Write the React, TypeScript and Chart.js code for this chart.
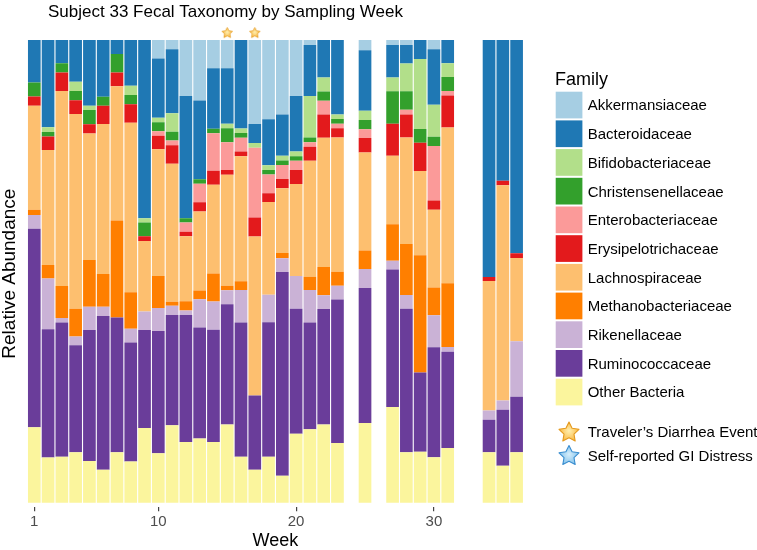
import React, { useEffect, useRef } from "react";
import { Chart, registerables } from "chart.js";

Chart.register(...registerables);

const FONT = "'Liberation Sans', Arial, Helvetica, sans-serif";

// Sampled weeks (x categories with data)
const sampleWeeks = [1, 2, 3, 4, 5, 6, 7, 8, 9, 10, 11, 12, 13, 14, 15, 16, 17, 18, 19, 20, 21, 22, 23, 25, 27, 28, 29, 30, 31, 34, 35, 36];
const lastWeek = 36;
const tickWeeks = [1, 10, 20, 30];

// Relative abundance (%) per family, aligned with sampleWeeks
const akkermansiaceae = [0, 0, 0, 0, 0, 0, 0, 0, 0, 4.0, 2.0, 12.1, 13.1, 6.1, 6.1, 0, 18.2, 17.1, 16.1, 12.1, 1.1, 0, 0, 2.2, 1.1, 1.1, 0, 2.0, 0, 0, 0, 0];
const bacteroidaceae = [9.2, 18.9, 5.0, 9.0, 14.2, 12.3, 3.0, 9.9, 38.5, 12.8, 13.8, 26.4, 17.0, 13.1, 12.0, 19.1, 4.1, 9.9, 8.9, 12.0, 11.0, 8.1, 16.1, 13.1, 7.0, 4.0, 4.1, 12.0, 5.0, 51.2, 30.4, 46.1];
const bifidobacteriaceae = [0, 1.0, 0, 2.0, 0.9, 0, 0, 2.0, 0.9, 1.0, 4.0, 0, 0, 0, 1.0, 1.0, 1.0, 1.0, 1.0, 1.0, 9.0, 3.0, 1.0, 2.0, 3.0, 6.0, 15.1, 6.9, 3.0, 0, 0, 0];
const christensenellaceae = [3.0, 1.0, 2.0, 2.0, 3.1, 1.9, 4.0, 2.0, 3.0, 1.9, 1.9, 0.9, 1.0, 1.0, 3.0, 1.0, 0, 1.0, 1.0, 1.0, 1.0, 2.0, 1.0, 2.0, 7.0, 4.0, 3.0, 2.0, 3.0, 0, 0, 0];
const enterobacteriaceae = [0, 0, 0, 0, 0, 0, 0, 0, 0, 1.0, 1.0, 2.0, 4.0, 8.1, 6.0, 3.0, 15.1, 4.0, 3.0, 2.0, 1.0, 3.0, 1.0, 1.9, 0, 1.0, 0, 11.8, 1.0, 0, 0, 0];
const erysipelotrichaceae = [2.0, 2.9, 4.0, 3.0, 2.0, 4.0, 3.0, 4.0, 1.0, 2.9, 4.0, 1.0, 2.0, 3.0, 1.0, 1.0, 4.1, 1.9, 2.0, 3.0, 3.0, 5.0, 2.0, 3.1, 6.9, 5.0, 6.1, 2.0, 6.9, 0.9, 1.0, 1.0];
const lachnospiraceae = [22.5, 24.9, 42.1, 42.1, 27.3, 32.4, 29.0, 36.6, 15.2, 27.4, 29.8, 14.0, 17.1, 19.2, 24.0, 27.0, 34.4, 20.0, 14.0, 19.9, 25.1, 27.9, 29.0, 21.2, 14.8, 23.0, 18.2, 16.8, 33.6, 28.0, 46.5, 18.0];
const methanobacteriaceae = [1.1, 2.9, 6.9, 6.0, 10.1, 7.1, 20.9, 7.9, 0, 6.9, 0.9, 2.0, 1.9, 6.1, 1.0, 1.9, 0, 0, 1.1, 0, 2.9, 6.1, 3.0, 4.0, 7.9, 11.0, 25.3, 6.0, 13.8, 0, 0, 0];
const rikenellaceae = [3.0, 11.0, 1.0, 1.9, 5.0, 2.0, 0, 3.0, 4.0, 5.0, 2.0, 1.0, 6.1, 6.1, 3.0, 7.0, 0, 5.9, 3.0, 7.1, 7.0, 3.0, 3.0, 4.1, 1.9, 3.0, 0, 6.9, 1.0, 2.0, 2.0, 12.0];
const ruminococcaceae = [42.9, 27.7, 29.0, 23.1, 28.3, 33.3, 29.1, 25.7, 21.2, 26.4, 23.8, 27.4, 24.0, 24.3, 26.0, 29.0, 16.1, 29.0, 44.0, 27.0, 23.1, 24.9, 31.0, 29.2, 29.7, 31.0, 17.1, 23.8, 20.8, 7.0, 12.1, 12.0];
const otherBacteria = [16.3, 9.8, 9.9, 10.9, 9.0, 7.1, 10.9, 8.9, 16.1, 10.7, 16.7, 13.1, 13.9, 13.1, 16.9, 9.9, 7.1, 9.9, 5.8, 14.9, 15.9, 16.9, 12.9, 17.2, 20.7, 10.9, 11.0, 9.8, 11.8, 10.9, 8.0, 10.9];

// Events
const travelersDiarrheaWeeks = [15, 17];
const giDistressWeeks: number[] = [];

// Stack order: bottom -> top
const families = [
  { name: "Other Bacteria", color: "#FBF59D", values: otherBacteria },
  { name: "Ruminococcaceae", color: "#6A3D9A", values: ruminococcaceae },
  { name: "Rikenellaceae", color: "#CAB2D6", values: rikenellaceae },
  { name: "Methanobacteriaceae", color: "#FF7F00", values: methanobacteriaceae },
  { name: "Lachnospiraceae", color: "#FDBF6F", values: lachnospiraceae },
  { name: "Erysipelotrichaceae", color: "#E31A1C", values: erysipelotrichaceae },
  { name: "Enterobacteriaceae", color: "#FB9A99", values: enterobacteriaceae },
  { name: "Christensenellaceae", color: "#33A02C", values: christensenellaceae },
  { name: "Bifidobacteriaceae", color: "#B2DF8A", values: bifidobacteriaceae },
  { name: "Bacteroidaceae", color: "#1F78B4", values: bacteroidaceae },
  { name: "Akkermansiaceae", color: "#A6CEE3", values: akkermansiaceae },
];

const STAR_LEVEL = 101.6;

function starPath(ctx: CanvasRenderingContext2D, cx: number, cy: number, ro: number, ri: number) {
  ctx.beginPath();
  for (let i = 0; i < 10; i++) {
    const r = i % 2 === 0 ? ro : ri;
    const a = -Math.PI / 2 + (i * Math.PI) / 5;
    const x = cx + r * Math.cos(a);
    const y = cy + r * Math.sin(a);
    if (i === 0) ctx.moveTo(x, y);
    else ctx.lineTo(x, y);
  }
  ctx.closePath();
}

function drawStar(ctx: CanvasRenderingContext2D, cx: number, cy: number, r: number, kind: "gold" | "blue") {
  const inner = kind === "gold" ? "#FFEFB0" : "#D6EEFB";
  const outer = kind === "gold" ? "#F9B740" : "#7FC0EA";
  const stroke = kind === "gold" ? "#E59A1E" : "#3A8ED0";
  ctx.save();
  const g = ctx.createRadialGradient(cx, cy - r * 0.1, 0, cx, cy, r);
  g.addColorStop(0, inner);
  g.addColorStop(1, outer);
  starPath(ctx, cx, cy + r * 0.08, r, r * 0.5);
  ctx.fillStyle = g;
  ctx.fill();
  ctx.lineJoin = "round";
  ctx.lineWidth = r > 7 ? 1.1 : 0.8;
  ctx.strokeStyle = stroke;
  ctx.stroke();
  ctx.restore();
}

function makeStarImage(r: number, kind: "gold" | "blue") {
  const c = document.createElement("canvas");
  const s = Math.ceil(r * 2 + 4);
  c.width = s;
  c.height = s;
  const ctx = c.getContext("2d")!;
  drawStar(ctx, s / 2, s / 2, r, kind);
  return c;
}

const annotationPlugin = {
  id: "textAndLegend",
  afterDraw(chart: any) {
    const ctx: CanvasRenderingContext2D = chart.ctx;
    ctx.save();
    // Title
    ctx.fillStyle = "#000";
    ctx.textAlign = "left";
    ctx.textBaseline = "alphabetic";
    ctx.font = `17px ${FONT}`;
    ctx.fillText("Subject 33 Fecal Taxonomy by Sampling Week", 48, 17);

    // Legend
    const lx = 555.7;
    ctx.font = `18px ${FONT}`;
    ctx.fillText("Family", 555, 85);
    const bars = chart.data.datasets.filter((d: any) => d.type === "bar").slice().reverse();
    ctx.font = `15px ${FONT}`;
    bars.forEach((ds: any, i: number) => {
      const top = 91.7 + i * 28.7;
      ctx.fillStyle = ds.backgroundColor;
      ctx.fillRect(lx, top, 26.7, 26.7);
      ctx.fillStyle = "#000";
      ctx.fillText(ds.label, 587.7, top + 13.35 + 5.4);
    });
    const events = chart.data.datasets.filter((d: any) => d.type === "line");
    events.forEach((ds: any, i: number) => {
      const cy = 431.7 + i * 23.5;
      drawStar(ctx, 569, cy, 10.5, i === 0 ? "gold" : "blue");
      ctx.fillStyle = "#000";
      ctx.fillText(ds.label, 587.7, cy + 5.4);
    });
    ctx.restore();
  },
};

export default function App() {
  const ref = useRef<HTMLCanvasElement | null>(null);

  useEffect(() => {
    document.body.style.margin = "0";
    const canvas = ref.current;
    if (!canvas) return;

    const labels = Array.from({ length: lastWeek }, (_, i) => String(i + 1));

    const barDatasets = families.map((f) => ({
      type: "bar" as const,
      label: f.name,
      backgroundColor: f.color,
      borderWidth: 0,
      data: labels.map((l) => {
        const idx = sampleWeeks.indexOf(Number(l));
        if (idx < 0) return null;
        const total = families.reduce((s, ff) => s + ff.values[idx], 0);
        return (f.values[idx] / total) * 100;
      }),
      barPercentage: 0.92,
      categoryPercentage: 1.0,
      yAxisID: "y",
      order: 2,
    }));

    const goldStar = makeStarImage(5.5, "gold");
    const blueStar = makeStarImage(5.5, "blue");

    const eventDataset = (label: string, weeks: number[], img: HTMLCanvasElement) => ({
      type: "line" as const,
      label,
      data: labels.map((l) => (weeks.includes(Number(l)) ? STAR_LEVEL : null)),
      showLine: false,
      pointStyle: img,
      pointRadius: 14,
      pointBorderWidth: 0,
      yAxisID: "y2",
      clip: false,
      order: 1,
    });

    const chart = new Chart(canvas, {
      type: "bar",
      data: {
        labels,
        datasets: [
          ...barDatasets,
          eventDataset("Traveler\u2019s Diarrhea Event", travelersDiarrheaWeeks, goldStar),
          eventDataset("Self-reported GI Distress", giDistressWeeks, blueStar),
        ] as any,
      },
      options: {
        responsive: false,
        animation: false,
        events: [],
        layout: { padding: { top: 40, right: 233.5, bottom: 0.5, left: 0 } },
        plugins: {
          legend: { display: false },
          tooltip: { enabled: false },
          title: { display: false },
        },
        scales: {
          x: {
            type: "category",
            stacked: true,
            offset: true,
            grid: {
              display: true,
              offset: false,
              drawOnChartArea: false,
              drawTicks: true,
              tickLength: 4,
              color: "#444",
              lineWidth: 1.2,
            },
            border: { display: false },
            ticks: {
              autoSkip: false,
              maxRotation: 0,
              minRotation: 0,
              padding: 2,
              color: "#4D4D4D",
              font: { family: FONT, size: 15 },
              callback: (_v: any, i: number) => (tickWeeks.includes(i + 1) ? String(i + 1) : null),
            },
            title: {
              display: true,
              text: "Week",
              color: "#000",
              font: { family: FONT, size: 18, lineHeight: 0.9 },
              padding: { top: 0, bottom: 0 },
            },
          },
          y: {
            type: "linear",
            stacked: true,
            min: -1,
            max: 100,
            grid: { display: false, drawTicks: false, tickLength: 0 },
            border: { display: false },
            ticks: { display: false, padding: 0 },
            title: {
              display: true,
              text: "Relative Abundance",
              color: "#000",
              font: { family: FONT, size: 19, lineHeight: 1 },
              padding: { top: 0, bottom: 8.4 },
            },
          },
          y2: {
            type: "linear",
            display: false,
            min: -1,
            max: 100,
          },
        },
      } as any,
      plugins: [annotationPlugin],
    });

    return () => chart.destroy();
  }, []);

  return (
    <div style={{ width: 757, height: 550, background: "#fff" }}>
      <canvas ref={ref} width={757} height={550} style={{ display: "block", width: 757, height: 550 }} />
    </div>
  );
}
